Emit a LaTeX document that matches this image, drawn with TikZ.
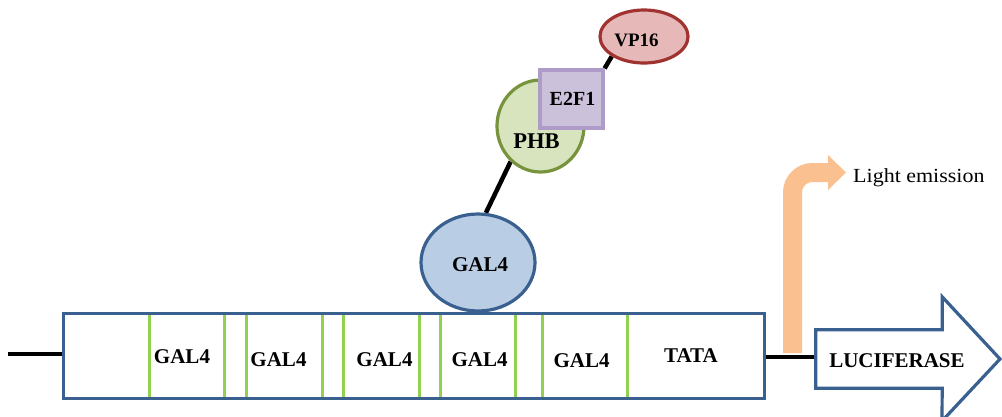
\documentclass[tikz,border=0pt]{standalone}
\usepackage{fontspec}
\setmainfont{Liberation Serif}
\newfontfamily\lightfont[FakeStretch=1.1]{Liberation Serif}
\usetikzlibrary{shapes.geometric,backgrounds}

\definecolor{dnablue}{HTML}{3A6090}
\definecolor{galfill}{HTML}{B9CDE5}
\definecolor{phbfill}{HTML}{D7E4BD}
\definecolor{phbline}{HTML}{77933C}
\definecolor{e2ffill}{HTML}{CCC1DA}
\definecolor{e2fline}{HTML}{AE9BC8}
\definecolor{vpfill}{HTML}{E6B9B8}
\definecolor{vpline}{HTML}{A0332F}
\definecolor{sitegreen}{HTML}{92D050}
\definecolor{lightorange}{HTML}{FAC090}

\tikzset{
  protein/.style={ellipse, draw, line width=3.2pt, inner sep=0pt},
  lbl/.style={anchor=base, inner sep=0pt, font=\bfseries\fontsize{21}{24}\selectfont},
  link/.style={line width=4.5pt, black},
  site/.style={line width=3pt, sitegreen},
}

\begin{document}
\begin{tikzpicture}[x=1pt, y=-1pt]
\useasboundingbox (0,0) rectangle (1002,416);

% promoter region with binding sites
\foreach \xx in {149,224,246,322,343,419,440,515,542,627}
  \draw[site] (\xx,313) -- (\xx,398);
\node[draw=dnablue, line width=3pt, minimum width=701pt, minimum height=85pt, inner sep=0pt] (box) at (413.5,355.5) {};
\node[lbl] (s1) at (182,363) {GAL4};
\node[lbl] (s2) at (278.5,366) {GAL4};
\node[lbl] (s3) at (384.5,366) {GAL4};
\node[lbl] (s4) at (479.5,366) {GAL4};
\node[lbl] (s5) at (581.5,367) {GAL4};
\node[lbl] (tata) at (691,362) {TATA};

% reporter gene
\node[minimum width=126pt, minimum height=58pt, inner sep=0pt] (luc) at (879,359) {};
\draw[dnablue, line width=3.2pt, line join=miter, fill=white]
  (luc.north west) -- (luc.north east) -- ++(0,-33) -- (1000,359)
  -- (942,421) -- (luc.south east) -- (luc.south west) -- cycle;
\node[lbl] (luctext) at (897,367) {LUCIFERASE};

% proteins
\node[protein, draw=dnablue, fill=galfill, minimum width=114pt, minimum height=97pt] (gal4) at (478,262.5) {};
\node[lbl] (gal4text) at (480,271) {GAL4};
\node[protein, draw=phbline, fill=phbfill, minimum width=87pt, minimum height=92pt] (phb) at (540.5,126) {};
\node[lbl, font=\bfseries\fontsize{22.5}{26}\selectfont] (phbtext) at (536.5,148) {PHB};
\node[draw=e2fline, fill=e2ffill, line width=3.2pt, minimum width=63pt, minimum height=58pt, inner sep=0pt] (e2f1) at (571.5,99) {};
\node[lbl, font=\bfseries\fontsize{20}{24}\selectfont] (e2ftext) at (572.5,105) {E2F1};
\node[protein, draw=vpline, fill=vpfill, minimum width=88pt, minimum height=53pt] (vp16) at (644,36.5) {};
\node[lbl, font=\bfseries\fontsize{19}{22}\selectfont] (vptext) at (636.5,46) {VP16};

% light emission label
\node[anchor=base west, inner sep=0pt, font=\lightfont\fontsize{20}{24}\selectfont] (light) at (853,182) {Light emission};

\coordinate (dnaL) at (8,354);
\coordinate (orangeBase) at (792.5,353);
\coordinate (orangeEnd) at (829,172.5);

\begin{pgfonlayer}{background}
  % emission arrow
  \draw[lightorange, line width=19pt, rounded corners=20pt]
    (orangeBase) -- (792.5,172.5) -- (orangeEnd);
  \fill[lightorange] (828,155) -- (846,172.5) -- (828,190) -- cycle;
  % DNA strand
  \draw[link, line width=4pt] (dnaL) -- (box.west |- dnaL);
  \draw[link, line width=4pt] (box.east |- 0,356.5) -- (luc.west |- 0,356.5);
  % protein linkers
  \draw[link] (phb.230) -- (gal4.81);
  \draw[link] (vp16.south west) -- (e2f1.north east);
\end{pgfonlayer}
\end{tikzpicture}
\end{document}
